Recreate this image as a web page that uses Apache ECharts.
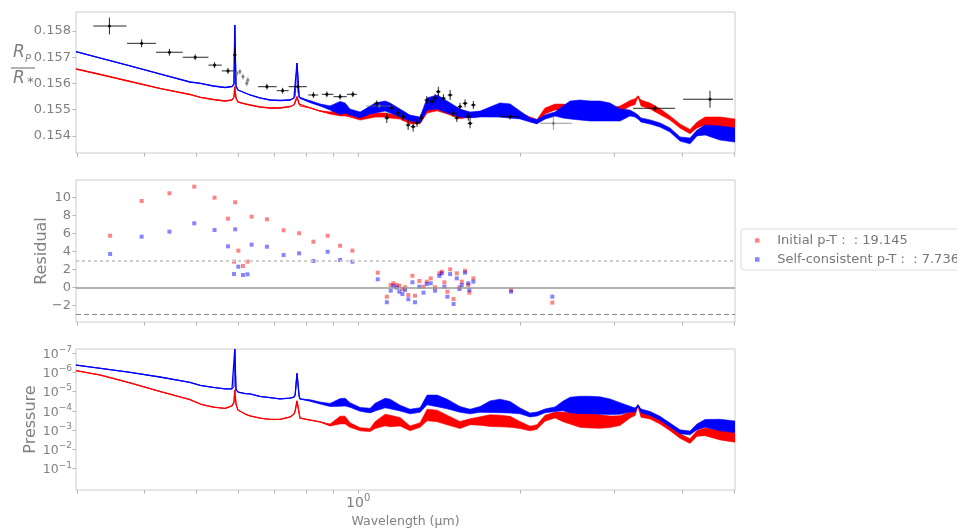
<!DOCTYPE html>
<html><head><meta charset="utf-8">
<script src="https://cdn.jsdelivr.net/npm/echarts@6/dist/echarts.min.js"></script>
<style>html,body{margin:0;padding:0;background:#fff}#c{width:957px;height:530px}</style>
</head><body><div id="c"></div>
<script>
// ---------- data ----------
const wavelength = [0.299,0.332,0.377,0.428,0.487,0.509,0.538,0.566,0.583,0.588,
 0.590,0.593,0.598,0.617,0.630,0.657,0.686,0.716,0.748,0.760,
 0.764,0.770,0.777,0.780,0.815,0.850,0.887,0.926,0.946,0.966,
 1.009,1.053,1.076,1.123,1.147,1.197,1.249,1.304,1.344,1.403,
 1.464,1.547,1.615,1.686,1.759,1.836,1.917,2.000,2.088,2.151,
 2.226,2.324,2.405,2.478,2.586,2.699,2.817,2.940,3.069,3.203,
 3.273,3.314,3.357,3.490,3.642,3.801,3.967,4.141,4.267,4.416,
 4.709,5.020];

const blueDepth = [0.157211,0.156968,0.156667,0.156362,0.156057,0.156008,0.155905,0.155848,0.155886,0.155981,
 0.158229,0.155905,0.155752,0.155638,0.155562,0.155448,0.155371,0.155352,0.155371,0.155448,
 0.155524,0.156781,0.155486,0.155429,0.155307,0.155181,0.155067,0.155067,0.155067,0.154914,
 0.154800,0.154990,0.155067,0.155143,0.155067,0.154876,0.154686,0.154610,0.155219,0.155295,
 0.155105,0.154876,0.154800,0.154838,0.154914,0.154990,0.154952,0.154800,0.154610,0.154545,
 0.154724,0.154838,0.154914,0.154990,0.154990,0.154952,0.154952,0.154914,0.154800,0.154876,
 0.154800,0.154724,0.154610,0.154533,0.154419,0.154229,0.153886,0.153810,0.154114,0.154229,
 0.154114,0.154038];
const blueDepthSpread = [0,0,0,0,0,0,0,0,0,0,
 0,0,0,0,0,0,0,0,0,0,
 0,0,0,0,0.00004,0.00004,0.00008,0.00025,0.00019,0.00011,
 0.00011,0.00015,0.00019,0.00019,0.00019,0.00015,0.00011,0.00011,0.00023,0.00027,
 0.00023,0.00015,0.00011,0.00011,0.00019,0.00027,0.00027,0.00015,0.00008,0.00008,
 0.00008,0.00008,0.00023,0.00034,0.00038,0.00038,0.00038,0.00034,0.00023,0.00011,
 0.00008,0.00008,0.00008,0.00008,0.00008,0.00008,0.00008,0.00011,0.00011,0.00019,
 0.00027,0.00027];
const redDepth = [0.156552,0.156343,0.156076,0.155810,0.155581,0.155474,0.155390,0.155333,0.155371,0.155486,
 0.155878,0.155448,0.155295,0.155219,0.155181,0.155105,0.155067,0.155067,0.155124,0.155181,
 0.155257,0.155497,0.155219,0.155143,0.155067,0.154952,0.154876,0.154876,0.154876,0.154800,
 0.154686,0.154762,0.154800,0.154800,0.154762,0.154724,0.154545,0.154545,0.154990,0.155067,
 0.154952,0.154735,0.154800,0.154819,0.154827,0.154838,0.154838,0.154800,0.154648,0.154545,
 0.154952,0.155105,0.155105,0.155067,0.154990,0.154952,0.154952,0.154952,0.155029,0.155246,
 0.155307,0.155524,0.155257,0.155143,0.154926,0.154686,0.154381,0.154164,0.154419,0.154571,
 0.154533,0.154457];
const redDepthSpread = [0,0,0,0,0,0,0,0,0,0,
 0,0,0,0,0,0,0,0,0,0,
 0,0,0,0,0,0,0.00004,0.00011,0.00011,0.00008,
 0.00008,0.00008,0.00008,0.00008,0.00008,0.00008,0.00008,0.00008,0.00011,0.00011,
 0.00011,0.00008,0.00008,0.00008,0.00008,0.00008,0.00008,0.00008,0.00008,0.00008,
 0.00011,0.00011,0.00011,0.00011,0.00011,0.00011,0.00011,0.00011,0.00011,0.00011,
 0.00011,0,0.00011,0.00011,0.00011,0.00008,0.00008,0.00008,0.00011,0.00015,
 0.00019,0.00019];

const bluePressure = [4.27e-7,6.31e-7,1.02e-6,1.78e-6,3.39e-6,4.90e-6,6.17e-6,7.41e-6,7.41e-6,5.89e-6,
 6.31e-8,7.94e-6,1.07e-5,1.29e-5,1.35e-5,1.82e-5,2.09e-5,2.45e-5,2.19e-5,1.95e-5,
 1.51e-5,1.15e-6,1.74e-5,2.45e-5,2.95e-5,3.98e-5,5.01e-5,3.72e-5,3.55e-5,5.01e-5,
 8.51e-5,9.77e-5,6.46e-5,3.98e-5,4.47e-5,7.24e-5,1.10e-4,9.12e-5,2.75e-5,3.09e-5,
 4.47e-5,8.51e-5,1.10e-4,8.51e-5,6.17e-5,5.62e-5,6.61e-5,1.02e-4,1.66e-4,1.48e-4,
 1.02e-4,8.32e-5,5.62e-5,5.01e-5,5.01e-5,5.01e-5,5.37e-5,6.17e-5,7.59e-5,8.32e-5,
 9.12e-5,5.01e-5,1.02e-4,1.38e-4,2.45e-4,5.50e-4,1.23e-3,1.41e-3,6.76e-4,4.47e-4,
 5.50e-4,6.76e-4];
const bluePressureSpreadDex = [0,0,0,0,0,0,0,0,0,0,
 0,0,0,0,0,0,0,0,0,0,
 0,0,0,0,0.04,0.05,0.08,0.2,0.2,0.12,
 0.1,0.12,0.2,0.25,0.25,0.15,0.12,0.12,0.25,0.3,
 0.25,0.15,0.12,0.15,0.3,0.35,0.3,0.15,0.1,0.1,
 0.1,0.12,0.25,0.4,0.45,0.45,0.45,0.4,0.3,0.15,
 0.1,0,0.1,0.1,0.1,0.1,0.1,0.1,0.15,0.2,
 0.3,0.3];
const redPressure = [8.32e-7,1.41e-6,3.63e-6,1.00e-5,2.63e-5,4.47e-5,6.46e-5,7.59e-5,5.62e-5,3.55e-5,
 8.32e-6,4.47e-5,9.12e-5,1.48e-4,1.86e-4,2.40e-4,2.82e-4,2.82e-4,2.09e-4,1.48e-4,
 1.02e-4,3.09e-5,1.32e-4,2.40e-4,3.02e-4,3.80e-4,5.50e-4,3.02e-4,3.02e-4,5.50e-4,
 9.12e-4,1.00e-3,5.50e-4,3.02e-4,3.39e-4,3.72e-4,8.13e-4,5.50e-4,1.66e-4,1.86e-4,
 3.02e-4,5.50e-4,3.72e-4,3.39e-4,3.24e-4,3.39e-4,3.72e-4,5.50e-4,8.32e-4,6.92e-4,
 2.45e-4,1.66e-4,2.09e-4,2.45e-4,3.02e-4,3.24e-4,3.63e-4,3.72e-4,3.24e-4,1.66e-4,
 1.35e-4,5.01e-5,1.66e-4,2.00e-4,3.72e-4,8.13e-4,2.04e-3,3.72e-3,1.48e-3,1.23e-3,
 1.82e-3,2.40e-3];
const redPressureSpreadDex = [0,0,0,0,0,0,0,0,0,0,
 0,0,0,0,0,0,0,0,0,0,
 0,0,0,0,0,0,0.05,0.2,0.2,0.12,
 0.08,0.08,0.18,0.3,0.3,0.22,0.12,0.12,0.3,0.3,
 0.25,0.18,0.15,0.22,0.3,0.3,0.28,0.18,0.12,0.12,
 0.15,0.15,0.25,0.3,0.38,0.38,0.35,0.3,0.25,0.15,
 0.12,0,0.12,0.12,0.12,0.12,0.12,0.12,0.15,0.2,
 0.25,0.25];

// observed transit depths (black) with wavelength bin edges and errors
const obsWl = [0.345,0.396,0.446,0.498,0.541,0.573,0.590,0.677,0.724,0.773,0.826,0.875,0.926,0.978,
 1.083,1.131,1.155,1.187,1.212,1.239,1.266,1.287,1.309,1.342,1.371,1.390,1.410,1.441,1.483,1.502,1.526,1.547,1.581,1.603,1.615,1.638,
 1.917,3.565,4.511];
const obsWlLo = [0.322,0.372,0.421,0.472,0.527,0.558,0.587,0.652,0.706,0.743,0.808,0.856,0.900,0.953,
 1.072,1.120,1.143,1.175,1.200,1.227,1.253,1.274,1.296,1.329,1.357,1.376,1.396,1.427,1.468,1.487,1.511,1.532,1.565,1.587,1.599,1.622,
 1.836,3.244,4.019];
const obsWlHi = [0.371,0.421,0.472,0.527,0.558,0.587,0.594,0.706,0.743,0.803,0.843,0.900,0.953,0.995,
 1.094,1.142,1.167,1.199,1.224,1.251,1.279,1.300,1.322,1.355,1.385,1.404,1.424,1.455,1.498,1.517,1.541,1.562,1.597,1.619,1.631,1.654,
 2.000,3.884,4.977];
const obsDepth = [0.15819,0.15753,0.15719,0.15700,0.15670,0.15648,0.15709,0.155878,0.155726,0.155878,0.155562,0.155589,0.155497,0.155589,
 0.155246,0.154686,0.155067,0.154876,0.154735,0.154419,0.154354,0.154495,0.154686,0.155371,0.155307,0.155448,0.155688,0.155436,0.155562,0.154876,0.154686,0.155116,0.155246,0.154735,0.154484,0.155181,
 0.154735,0.155055,0.15540];
const obsErr = [0.00032,0.00015,0.00013,0.00011,0.00011,0.00011,0.00030,0.00011,0.00011,0.00023,0.00011,0.00011,0.00011,0.00011,
 0.00011,0.00019,0.00015,0.00015,0.00015,0.00019,0.00019,0.00015,0.00015,0.00015,0.00015,0.00015,0.00019,0.00015,0.00019,0.00015,0.00015,0.00015,0.00015,0.00015,0.00019,0.00015,
 0.00011,0.00011,0.00032];
// lighter (grey) observations
const greyWl = [0.595,0.603,0.611,0.621,0.624,1.096,2.307];
const greyWlLo = [0.592,0.600,0.608,0.618,0.621,1.035,2.179];
const greyWlHi = [0.598,0.606,0.614,0.624,0.627,1.162,2.496];
const greyDepth = [0.156389,0.156450,0.156259,0.156008,0.156133,0.155143,0.154484];
const greyErr = [0.00011,0.00011,0.00011,0.00011,0.00011,0.00008,0.00025];

// residuals
const resWl = [0.346,0.396,0.446,0.496,0.541,0.573,0.591,0.588,0.599,0.611,
 0.623,0.634,0.677,0.727,0.777,0.826,0.878,0.926,0.976,1.088,
 1.131,1.150,1.163,1.180,1.193,1.209,1.223,1.240,1.262,1.276,
 1.300,1.323,1.342,1.365,1.390,1.416,1.431,1.447,1.466,1.483,
 1.505,1.526,1.543,1.559,1.581,1.603,1.610,1.638,1.925,2.297];
const resInitial = [5.76,9.63,10.49,11.23,10.0,7.66,9.49,2.86,4.09,2.38,
 2.86,7.88,7.59,6.36,6.03,5.09,5.76,4.64,4.09,1.63,
 -1.05,0.26,0.45,0.26,0.18,-0.19,0.0,-0.86,1.29,-0.94,
 0.70,0.07,0.63,1.0,0.0,1.56,1.74,0.56,-0.49,2.0,
 -1.31,1.56,0.0,0.63,1.85,0.26,-0.6,1.0,-0.3,-1.71];
const resSelf = [3.72,5.65,6.21,7.14,6.39,4.57,6.47,1.48,2.30,1.37,
 1.45,4.76,4.53,3.60,3.79,2.94,3.97,3.05,2.86,0.89,
 -1.67,-0.38,0.15,-0.04,-0.49,-0.75,-0.30,-1.34,0.56,-1.67,
 0.07,-0.60,0.37,0.45,-0.38,1.26,1.56,0.07,-1.05,1.48,
 -1.86,1.0,-0.19,0.26,1.63,0.45,-0.3,0.63,-0.49,-1.05];
const residualRefLines = [0, 3, -3];
const legendNames = ['Initial p-T :  : 19.145', 'Self-consistent p-T :  : 7.736'];

// axes / ticks
const xRange = [0.299, 5.02];
const xTickValues = [0.3,0.4,0.5,0.6,0.7,0.8,0.9,1,2,3,4,5];
const xLabelValues = [1];
const depthRange = [0.153352, 0.158724];
const depthTicks = [0.154,0.155,0.156,0.157,0.158];
const residualRange = [-3.873, 11.975];
const residualTicks = [-2,0,2,4,6,8,10];
const pressureRange = [6.31e-8, 1.276];
const pressureTicks = [1e-7,1e-6,1e-5,1e-4,1e-3,1e-2,1e-1];

// ---------- chart ----------
const FONT = 'DejaVu Sans';
const TXT = '#808080';
const TICK = '#b5b5b5';
const chart = echarts.init(document.getElementById('c'), null, {renderer:'canvas', width:957, height:530});

function lineSeries(name, gi, vals, color, z) {
  return {type:'line', name, xAxisIndex:gi, yAxisIndex:gi, data: wavelength.map((w,i)=>[w, vals[i]]),
    showSymbol:false, symbol:'none', lineStyle:{color, width:1.3}, itemStyle:{color}, z, silent:true};
}
function bandSeries(name, gi, lo, hi, color, z) {
  return {type:'custom', name, xAxisIndex:gi, yAxisIndex:gi, z, silent:true, clip:true,
    data: wavelength.map((w,i)=>[w, lo[i], hi[i]]),
    encode:{x:0, y:[1,2]},
    renderItem(params, api) {
      if (params.dataIndexInside !== 0) return null;
      const n = params.dataInsideLength;
      const up = [], dn = [];
      for (let i = 0; i < n; i++) {
        const x = api.value(0, i);
        up.push(api.coord([x, api.value(2, i)]));
        dn.push(api.coord([x, api.value(1, i)]));
      }
      return {type:'polygon', shape:{points: up.concat(dn.reverse())}, style:{fill:color, stroke:color, lineWidth:0.6}};
    }};
}
function errSeries(name, wl, lo, hi, v, e, color, z) {
  return {type:'custom', name, xAxisIndex:0, yAxisIndex:0, z, silent:true, clip:true,
    data: wl.map((w,i)=>[w, v[i], lo[i], hi[i], e[i]]),
    encode:{x:0, y:1},
    renderItem(params, api) {
      const x = api.value(0), y = api.value(1), err = api.value(4);
      const c = api.coord([x, y]);
      const l = api.coord([api.value(2), y]);
      const r = api.coord([api.value(3), y]);
      const t = api.coord([x, y + err]);
      const b = api.coord([x, y - err]);
      return {type:'group', children:[
        {type:'line', shape:{x1:l[0], y1:l[1], x2:r[0], y2:r[1]}, style:{stroke:color, lineWidth:1}},
        {type:'line', shape:{x1:t[0], y1:t[1], x2:b[0], y2:b[1]}, style:{stroke:color, lineWidth:1}},
        {type:'circle', shape:{cx:c[0], cy:c[1], r:1.6}, style:{fill:color}}
      ]};
    }};
}

const topBlueLo = blueDepth.map((v,i)=>v - blueDepthSpread[i]);
const topBlueHi = blueDepth.map((v,i)=>v + blueDepthSpread[i]);
const topRedLo = redDepth.map((v,i)=>v - redDepthSpread[i]);
const topRedHi = redDepth.map((v,i)=>v + redDepthSpread[i]);
const botBlueLo = bluePressure.map((p,i)=>p / Math.pow(10, bluePressureSpreadDex[i]));
const botBlueHi = bluePressure.map((p,i)=>p * Math.pow(10, bluePressureSpreadDex[i]));
const botRedLo = redPressure.map((p,i)=>p / Math.pow(10, redPressureSpreadDex[i]));
const botRedHi = redPressure.map((p,i)=>p * Math.pow(10, redPressureSpreadDex[i]));

function xAxisCfg(gi, withName) {
  const ax = {type:'log', logBase:10, gridIndex:gi, min:xRange[0], max:xRange[1],
    axisLine:{show:false, onZero:false}, splitLine:{show:false},
    axisTick:{show:true, customValues:xTickValues, length:3.5, lineStyle:{color:TICK, width:1}},
    axisLabel:{show:false}};
  if (withName) {
    ax.name = 'Wavelength (μm)';
    ax.nameLocation = 'middle';
    ax.nameGap = 25;
    ax.nameTextStyle = {fontSize:12.5, color:TXT, fontFamily:FONT};
  }
  return ax;
}

const baseGraphic = [
  {type:'text', left:13, top:44, style:{text:'R', font:'italic 17px "DejaVu Sans"', fill:TXT}},
  {type:'text', left:25, top:54, style:{text:'P', font:'italic 10px "DejaVu Sans"', fill:TXT}},
  {type:'line', shape:{x1:11, y1:68, x2:35, y2:68}, style:{stroke:TXT, lineWidth:1.2}},
  {type:'text', left:13, top:70, style:{text:'R', font:'italic 17px "DejaVu Sans"', fill:TXT}},
  {type:'text', left:26, top:75, style:{text:'\u2217', font:'10px "DejaVu Sans"', fill:TXT}}
];

const option = {
  animation:false,
  backgroundColor:'#fff',
  grid:[
    {left:76, top:12, width:659, height:141, show:true, borderColor:'#cccccc', borderWidth:1, backgroundColor:'transparent'},
    {left:76, top:180, width:659, height:142, show:true, borderColor:'#cccccc', borderWidth:1, backgroundColor:'transparent'},
    {left:76, top:349, width:659, height:141, show:true, borderColor:'#cccccc', borderWidth:1, backgroundColor:'transparent'}
  ],
  xAxis:[xAxisCfg(0,false), xAxisCfg(1,false), xAxisCfg(2,true)],
  yAxis:[
    {type:'value', gridIndex:0, min:depthRange[0], max:depthRange[1], splitLine:{show:false}, axisLine:{show:false},
     axisTick:{show:true, customValues:depthTicks, length:3.5, lineStyle:{color:TICK}},
     axisLabel:{customValues:depthTicks, formatter:v=>v.toFixed(3), fontSize:13, color:TXT, fontFamily:FONT, margin:5}},
    {type:'value', gridIndex:1, min:residualRange[0], max:residualRange[1], splitLine:{show:false}, axisLine:{show:false},
     axisTick:{show:true, customValues:residualTicks, length:3.5, lineStyle:{color:TICK}},
     axisLabel:{customValues:residualTicks, formatter:v=> v<0 ? '\u2212'+Math.abs(v) : String(v), fontSize:13, color:TXT, fontFamily:FONT, margin:5},
     name:'Residual', nameLocation:'middle', nameGap:26, nameMoveOverlap:false, nameRotate:90, nameTextStyle:{fontSize:16, color:TXT, fontFamily:FONT}},
    {type:'log', logBase:10, gridIndex:2, inverse:true, min:pressureRange[0], max:pressureRange[1], splitLine:{show:false}, axisLine:{show:false},
     axisTick:{show:true, customValues:pressureTicks, length:3.5, lineStyle:{color:TICK}},
     axisLabel:{customValues:pressureTicks, margin:4,
       formatter:v=>{const e=Math.round(Math.log10(v)); return '{b|10}{e|'+(e<0?'\u2212':'')+Math.abs(e)+'}';},
       rich:{b:{fontSize:12.5, color:TXT, fontFamily:FONT, lineHeight:16, verticalAlign:'bottom'},
             e:{fontSize:9, color:TXT, fontFamily:FONT, lineHeight:10, verticalAlign:'top'}}},
     name:'Pressure', nameLocation:'middle', nameGap:37, nameMoveOverlap:false, nameRotate:90, nameTextStyle:{fontSize:16, color:TXT, fontFamily:FONT}}
  ],
  legend:{data:legendNames, orient:'vertical', left:741, top:229, padding:[4,8,3,14], itemWidth:30, itemHeight:4.5, itemGap:4,
    icon:'path://M0 0H10V10H0Z', symbolKeepAspect:true, selectedMode:false,
    textStyle:{fontSize:13, color:'#777', fontFamily:FONT, lineHeight:15},
    borderColor:'#dddddd', borderWidth:1, borderRadius:3, backgroundColor:'#fff'},
  graphic: baseGraphic,
  series:[
    bandSeries('redTopBand', 0, topRedLo, topRedHi, '#ff0000', 2),
    lineSeries('redTop', 0, redDepth, '#ff0000', 2),
    bandSeries('blueTopBand', 0, topBlueLo, topBlueHi, '#0000ff', 3),
    lineSeries('blueTop', 0, blueDepth, '#0000ff', 3),
    errSeries('obsGrey', greyWl, greyWlLo, greyWlHi, greyDepth, greyErr, 'rgba(110,110,110,0.7)', 4),
    errSeries('obs', obsWl, obsWlLo, obsWlHi, obsDepth, obsErr, 'rgba(0,0,0,0.85)', 5),
    {type:'scatter', name:legendNames[0], xAxisIndex:1, yAxisIndex:1, symbol:'rect', symbolSize:4,
     data: resWl.map((w,i)=>[w, resInitial[i]]), itemStyle:{color:'rgba(255,0,0,0.6)'}, z:3,
     markLine:{silent:true, symbol:'none', label:{show:false}, animation:false,
       data:[
         {yAxis:residualRefLines[0], lineStyle:{color:'#999999', type:'solid', width:1.5}},
         {yAxis:residualRefLines[1], lineStyle:{color:'#cfcfcf', type:[3,3], width:2}},
         {yAxis:residualRefLines[2], lineStyle:{color:'#8a8a8a', type:[5,3], width:1.2}}
       ]}},
    {type:'scatter', name:legendNames[1], xAxisIndex:1, yAxisIndex:1, symbol:'rect', symbolSize:4,
     data: resWl.map((w,i)=>[w, resSelf[i]]), itemStyle:{color:'rgba(0,0,255,0.6)'}, z:4},
    bandSeries('redBotBand', 2, botRedLo, botRedHi, '#ff0000', 2),
    lineSeries('redBot', 2, redPressure, '#ff0000', 2),
    bandSeries('blueBotBand', 2, botBlueLo, botBlueHi, '#0000ff', 3),
    lineSeries('blueBot', 2, bluePressure, '#0000ff', 3)
  ]
};
chart.setOption(option);

// major tick label "10^0" positioned through the bottom x-axis scale (plain texts: base + superscript)
const labelGraphic = [];
xLabelValues.forEach(v => {
  const px = chart.convertToPixel({xAxisIndex:2}, v);
  const exp = String(Math.round(Math.log10(v)));
  labelGraphic.push({type:'text', x:px - 12, y:496, z:10,
    style:{text:'10', fill:TXT, font:'14px "DejaVu Sans"', align:'left', verticalAlign:'top'}});
  labelGraphic.push({type:'text', x:px + 6, y:493, z:10,
    style:{text:exp, fill:TXT, font:'10px "DejaVu Sans"', align:'left', verticalAlign:'top'}});
});
chart.setOption({graphic: baseGraphic.concat(labelGraphic)});
</script>
</body></html>
